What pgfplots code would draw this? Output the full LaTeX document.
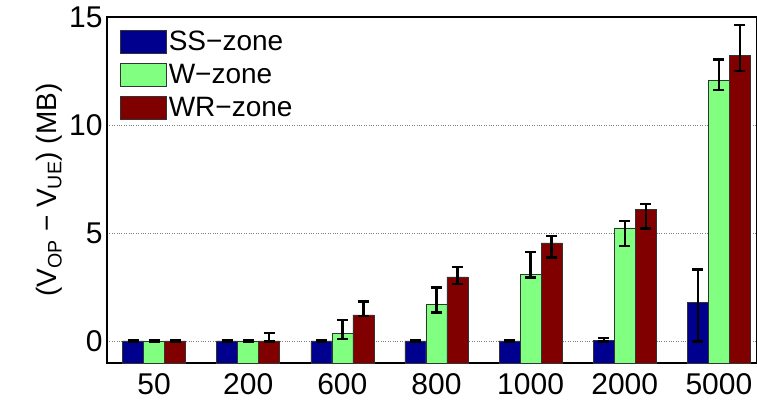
\documentclass[border=0pt]{standalone}
\usepackage{pgfplots}
\pgfplotsset{compat=1.18}
\usepackage{fontspec}
\setmainfont{Liberation Sans}
\definecolor{cblue}{rgb}{0,0,0.5625}
\definecolor{cgreen}{rgb}{0.5,1,0.5}
\definecolor{cred}{rgb}{0.5,0,0}
\begin{document}
\begin{tikzpicture}
\begin{axis}[
  scale only axis, width=650pt, height=346pt,
  xmin=-0.5, xmax=6.405, ymin=0, ymax=16,
  % bars rise from the bottom of the axis (value -1), as in the reference:
  % every value is drawn 1 unit up and the ticks are labelled accordingly
  y filter/.expression={y+1},
  ytick={1,6,11,16}, yticklabels={0,5,10,15},
  xtick={0,1,2,3,4,5,6},
  xticklabels={50,200,600,800,1000,2000,5000},
  ymajorgrids, grid style={dotted, gray, line width=0.8pt},
  major tick length=0pt,
  axis line style={line width=1.2pt, black},
  /pgf/number format/assume math mode=true,
  tick label style={font=\fontsize{30}{32}\selectfont},
  xticklabel style={yshift=-7pt},
  yticklabel style={xshift=-1pt},
  ylabel={(V\textsubscript{OP} − V\textsubscript{UE}) (MB)},
  ylabel style={font=\fontsize{28}{30}\selectfont},
  ybar, bar width=21pt,
  legend cell align=left,
  legend style={draw=none, fill=none, at={(0,1)}, anchor=north west,
    xshift=10pt, yshift=-10pt,
    font=\fontsize{28}{30}\selectfont, row sep=8pt},
  legend image code/.code={\draw[#1,draw=black!80,line width=0.6pt] (0pt,-11.5pt) rectangle (46pt,11.5pt);},
  every axis plot/.append style={draw=black!80, line width=0.6pt},
  error bars/y dir=both, error bars/y explicit,
  error bars/error mark=|,
  error bars/error bar style={line width=2.4pt, black},
  error bars/error mark options={line width=2.4pt, mark size=5.5pt, black},
]
\addplot[fill=cblue, bar shift=-21pt] coordinates {
  (0,0.02) += (0,0.03) -= (0,0.03)
  (1,0.02) += (0,0.03) -= (0,0.03)
  (2,0.02) += (0,0.03) -= (0,0.03)
  (3,0.02) += (0,0.03) -= (0,0.03)
  (4,0.02) += (0,0.03) -= (0,0.03)
  (5,0.05) += (0,0.12) -= (0,0.05)
  (6,1.79) += (0,1.54) -= (0,1.79)
};
\addplot[fill=cgreen, bar shift=0pt] coordinates {
  (0,0.02) += (0,0.03) -= (0,0.03)
  (1,0.02) += (0,0.03) -= (0,0.03)
  (2,0.37) += (0,0.63) -= (0,0.25)
  (3,1.70) += (0,0.79) -= (0,0.37)
  (4,3.09) += (0,1.03) -= (0,0.13)
  (5,5.25) += (0,0.31) -= (0,0.84)
  (6,12.08) += (0,0.96) -= (0,0.46)
};
\addplot[fill=cred, bar shift=21pt] coordinates {
  (0,0.02) += (0,0.03) -= (0,0.03)
  (1,0.02) += (0,0.36) -= (0,0.02)
  (2,1.22) += (0,0.62) -= (0,0.06)
  (3,2.98) += (0,0.45) -= (0,0.34)
  (4,4.55) += (0,0.32) -= (0,0.68)
  (5,6.11) += (0,0.23) -= (0,0.89)
  (6,13.24) += (0,1.39) -= (0,0.74)
};
\legend{SS−zone, W−zone, WR−zone}
\end{axis}
\pgfresetboundingbox
\path (-107pt,-44pt) rectangle (650pt,363pt);
\end{tikzpicture}
\end{document}
